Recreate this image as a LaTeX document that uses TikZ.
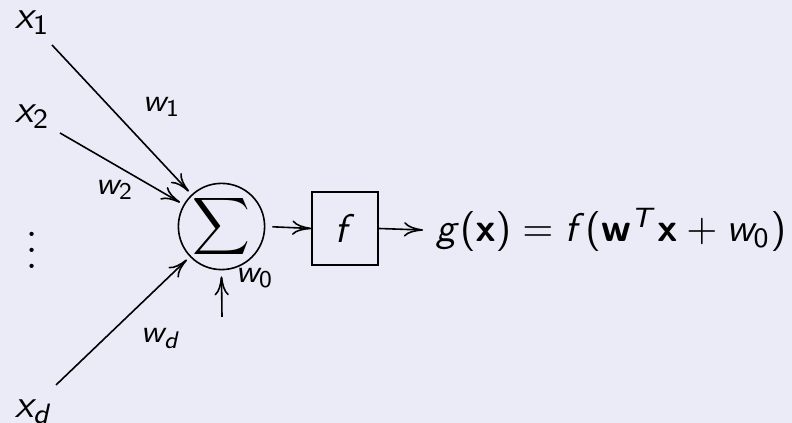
\documentclass[tikz,border=0pt,10pt]{standalone}
\usepackage{amsmath}
\usetikzlibrary{arrows.meta}
\SetSymbolFont{operators}{normal}{OT1}{cmss}{m}{n}
\DeclareMathAlphabet{\mathsfit}{OT1}{cmss}{m}{sl}
\DeclareMathAlphabet{\mathsfbf}{OT1}{cmss}{bx}{n}
\definecolor{bgcol}{RGB}{235,235,247}
\tikzset{
  lbl/.style={anchor=base west,inner sep=0pt},
  wlbl/.style={anchor=base west,inner sep=0pt,font=\footnotesize},
  conn/.style={-{Computer Modern Rightarrow[length=4.75pt,width=3.6pt]},line width=0.4pt},
}
\begin{document}
\begin{tikzpicture}[x=0.25pt,y=-0.25pt]
\fill[bgcol] (0,0) rectangle (792,423);
\useasboundingbox (0,0) rectangle (792,423);
\node[lbl] (x1) at (14,29) {$\mathsfit{x}_1$};
\node[lbl] (x2) at (14,123) {$\mathsfit{x}_2$};
\node[inner sep=0pt] (dots) at (32,238) {$\vdots$};
\node[lbl] (xd) at (14,418) {$\mathsfit{x}_{\mathsfit{d}}$};
\node[draw,circle,inner sep=0pt,minimum size=18.75pt] (s) at (221.5,226.5) {$\displaystyle\sum$};
\node[draw,rectangle,inner sep=0pt,minimum width=16.5pt,minimum height=18.25pt] (f) at (345,228.5) {$\mathsfit{f}$};
\node[anchor=base west,inner sep=3pt] (g) at (423,242) {$\mathsfit{g}(\mathsfbf{x})=\mathsfit{f}(\mathsfbf{w}^{\mathsfit{T}}\mathsfbf{x}+\mathsfit{w}_0)$};
\coordinate (a1) at (52,45);
\coordinate (a2) at (60,133);
\coordinate (ad) at (56,385);
\coordinate (a0) at (222,317);
\draw[conn,shorten >=1pt] (a1) -- (s);
\draw[conn,shorten >=1pt] (a2) -- (s);
\draw[conn,shorten >=1pt] (ad) -- (s);
\draw[conn] (a0) -- ([yshift=-1.5pt]s.south);
\draw[conn,shorten <=1.75pt] (s.east) -- (f.west);
\draw[conn] (f.east) -- (g.west);
\node[wlbl] (w1) at (142,112) {$\mathsfit{w}_1$};
\node[wlbl] (w2) at (95,195) {$\mathsfit{w}_2$};
\node[wlbl] (wd) at (140,343) {$\mathsfit{w}_{\mathsfit{d}}$};
\node[wlbl] (w0) at (235,283) {$\mathsfit{w}_0$};
\end{tikzpicture}
\end{document}
